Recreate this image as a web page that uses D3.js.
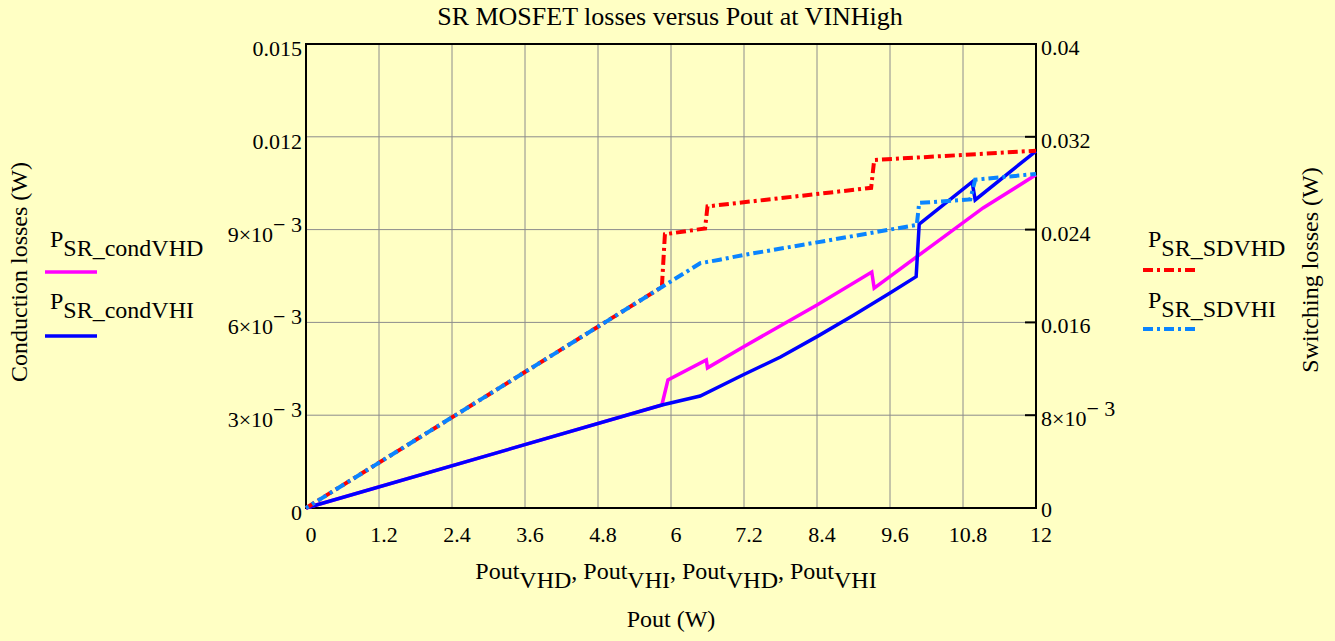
<!DOCTYPE html>
<html>
<head>
<meta charset="utf-8">
<script src="https://cdnjs.cloudflare.com/ajax/libs/d3/7.8.5/d3.min.js"></script>
<style>
  html, body { margin: 0; padding: 0; background: #ffffc4; }
  svg text { font-family: "Liberation Serif", "Times New Roman", serif; fill: #000; }
</style>
</head>
<body>
<div id="chart"></div>
<script>
// x ticks (Pout, W)
const xTicks = [0, 1.2, 2.4, 3.6, 4.8, 6, 7.2, 8.4, 9.6, 10.8, 12];
// left axis ticks (conduction, W) and labels [mantissa, exponent]
const yLeftTicks = [0, 0.003, 0.006, 0.009, 0.012, 0.015];
const yLeftLabels = [["0"], ["3×10", "− 3"], ["6×10", "− 3"], ["9×10", "− 3"], ["0.012"], ["0.015"]];
// right axis ticks (switching, W)
const yRightTicks = [0, 0.008, 0.016, 0.024, 0.032, 0.04];
const yRightLabels = [["0"], ["8×10", "− 3"], ["0.016"], ["0.024"], ["0.032"], ["0.04"]];

// conduction losses (W), left axis
const condVHD_x = [0, 5.85, 5.95, 6.58, 6.6, 7.18, 8.4, 9.3, 9.34, 10.3, 11.13, 12];
const condVHD_y = [0, 0.00333, 0.00414, 0.00479, 0.00453, 0.0052, 0.00656, 0.00763, 0.00711, 0.0085, 0.0097, 0.01077];
const condVHI_x = [0, 5.85, 6.48, 7.18, 7.8, 8.4, 9.0, 9.6, 10.03, 10.08, 10.95, 11.0, 12];
const condVHI_y = [0, 0.00333, 0.00362, 0.0043, 0.00488, 0.00554, 0.00623, 0.00695, 0.00748, 0.00918, 0.01054, 0.00996, 0.01154];
// switching losses (W), right axis
const sdVHD_x = [0, 5.85, 5.9, 6.56, 6.6, 9.29, 9.34, 12];
const sdVHD_y = [0, 0.01905, 0.0236, 0.0241, 0.026, 0.0276, 0.03, 0.0308];
const sdVHI_x = [0, 5.85, 6.48, 6.8, 7.18, 8.4, 9.6, 10.04, 10.08, 10.92, 11.0, 12];
const sdVHI_y = [0, 0.01905, 0.0211, 0.0214, 0.0218, 0.0229, 0.024, 0.0244, 0.0263, 0.0266, 0.0283, 0.0288];

const W = 1335, H = 641;
const m = { t: 44, r: 299, b: 133, l: 306 };
const iw = W - m.l - m.r, ih = H - m.t - m.b;
const fsTick = 22, fs = 24, fsTitle = 26;

const svg = d3.select("#chart").append("svg").attr("width", W).attr("height", H);
svg.append("rect").attr("width", W).attr("height", H).attr("fill", "#ffffc4");

const x = d3.scaleLinear().domain([0, 12]).range([m.l, m.l + iw]);
const yL = d3.scaleLinear().domain([0, 0.015]).range([m.t + ih, m.t]);
const yR = d3.scaleLinear().domain([0, 0.04]).range([m.t + ih, m.t]);

// grid
const grid = svg.append("g").attr("stroke", "#8c8c8c").attr("stroke-width", 1);
grid.selectAll("line.v").data(xTicks).enter().append("line")
  .attr("x1", d => x(d)).attr("x2", d => x(d)).attr("y1", m.t).attr("y2", m.t + ih);
grid.selectAll("line.h").data(yLeftTicks).enter().append("line")
  .attr("x1", m.l).attr("x2", m.l + iw).attr("y1", d => yL(d)).attr("y2", d => yL(d));

// right axis inward ticks
svg.append("g").selectAll("line").data(yRightTicks).enter().append("line")
  .attr("x1", m.l + iw - 11).attr("x2", m.l + iw).attr("y1", d => yR(d)).attr("y2", d => yR(d))
  .attr("stroke", "#000").attr("stroke-width", 2);

// frame
svg.append("rect").attr("x", m.l).attr("y", m.t).attr("width", iw).attr("height", ih)
  .attr("fill", "none").attr("stroke", "#000").attr("stroke-width", 2);

// tick labels
function supLabel(sel, parts) {
  sel.append("tspan").text(parts[0]);
  if (parts[1]) sel.append("tspan").attr("dy", -10).text(parts[1]);
}
yLeftTicks.forEach((d, i) => {
  const t = svg.append("text").attr("x", m.l - 4).attr("y", yL(d) + 12)
    .attr("text-anchor", "end").attr("font-size", fsTick);
  supLabel(t, yLeftLabels[i]);
});
yRightTicks.forEach((d, i) => {
  const t = svg.append("text").attr("x", m.l + iw + 5).attr("y", yR(d) + (d === 0 ? 9 : 11))
    .attr("font-size", fsTick);
  supLabel(t, yRightLabels[i]);
});
svg.append("g").selectAll("text").data(xTicks).enter().append("text")
  .attr("x", d => x(d) + 5).attr("y", 542).attr("text-anchor", "middle")
  .attr("font-size", fsTick).text(d => d);

// series
function series(xs, ys, ysc) { return xs.map((v, i) => [x(v), ysc(ys[i])]); }
const line = d3.line();
const dd = "10,4,3,4";
svg.append("path").attr("d", line(series(condVHD_x, condVHD_y, yL)))
  .attr("fill", "none").attr("stroke", "#ff00ff").attr("stroke-width", 3.5);
svg.append("path").attr("d", line(series(condVHI_x, condVHI_y, yL)))
  .attr("fill", "none").attr("stroke", "#0000ff").attr("stroke-width", 3.5);
svg.append("path").attr("d", line(series(sdVHD_x, sdVHD_y, yR)))
  .attr("fill", "none").attr("stroke", "#ff0000").attr("stroke-width", 4)
  .attr("stroke-dasharray", dd);
svg.append("path").attr("d", line(series(sdVHI_x, sdVHI_y, yR)))
  .attr("fill", "none").attr("stroke", "#0a84ff").attr("stroke-width", 4)
  .attr("stroke-dasharray", dd).attr("stroke-dashoffset", 7);

// title
svg.append("text").attr("x", 670).attr("y", 25).attr("text-anchor", "middle")
  .attr("font-size", fsTitle).text("SR MOSFET losses versus Pout at VINHigh");

// axis titles
svg.append("text").attr("transform", "translate(27,272) rotate(-90)")
  .attr("text-anchor", "middle").attr("font-size", fs).text("Conduction losses (W)");
svg.append("text").attr("transform", "translate(1318,270) rotate(-90)")
  .attr("text-anchor", "middle").attr("font-size", fs).text("Switching losses (W)");

const xl = svg.append("text").attr("x", 676).attr("y", 579).attr("text-anchor", "middle").attr("font-size", fs);
["VHD", "VHI", "VHD", "VHI"].forEach((s, i) => {
  xl.append("tspan").attr("dy", i === 0 ? 0 : -9).text((i === 0 ? "" : ", ") + "Pout");
  xl.append("tspan").attr("dy", 9).text(s);
});
svg.append("text").attr("x", 671).attr("y", 627).attr("text-anchor", "middle")
  .attr("font-size", fs).text("Pout (W)");

// legends
const legends = [
  { x: 45, y: 247, sub: "SR_condVHD", color: "#ff00ff", dash: null, ly: 272 },
  { x: 45, y: 309, sub: "SR_condVHI", color: "#0000ff", dash: null, ly: 336 },
  { x: 1143, y: 247, sub: "SR_SDVHD", color: "#ff0000", dash: dd, ly: 270 },
  { x: 1143, y: 308, sub: "SR_SDVHI", color: "#0a84ff", dash: dd, ly: 329 }
];
legends.forEach(l => {
  const t = svg.append("text").attr("x", l.x + 5).attr("y", l.y).attr("font-size", fs);
  t.append("tspan").text("P");
  t.append("tspan").attr("dy", 9).text(l.sub);
  svg.append("line").attr("x1", l.x).attr("x2", l.x + 52).attr("y1", l.ly).attr("y2", l.ly)
    .attr("stroke", l.color).attr("stroke-width", l.dash ? 4 : 3.5)
    .attr("stroke-dasharray", l.dash);
});
</script>
</body>
</html>
